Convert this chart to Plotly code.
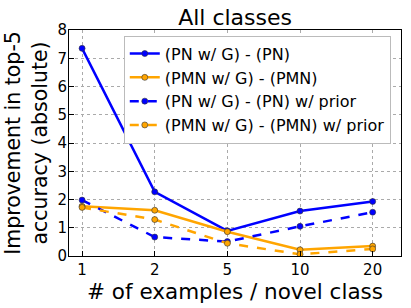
import plotly.graph_objects as go

categories = ["1", "2", "5", "10", "20"]
pn_g_minus_pn = [7.35, 2.27, 0.89, 1.59, 1.93]
pmn_g_minus_pmn = [1.76, 1.62, 0.86, 0.22, 0.35]
pn_g_minus_pn_prior = [1.98, 0.67, 0.51, 1.05, 1.55]
pmn_g_minus_pmn_prior = [1.72, 1.29, 0.45, 0.06, 0.25]
y_ticks = [0, 1, 2, 3, 4, 5, 6, 7, 8]

series = [
    ("(PN w/ G) - (PN)", pn_g_minus_pn, "#0000FF", "solid"),
    ("(PMN w/ G) - (PMN)", pmn_g_minus_pmn, "#FFA500", "solid"),
    ("(PN w/ G) - (PN) w/ prior", pn_g_minus_pn_prior, "#0000FF", "dash"),
    ("(PMN w/ G) - (PMN) w/ prior", pmn_g_minus_pmn_prior, "#FFA500", "dash"),
]

fig = go.Figure()
for name, vals, color, dash in series:
    fig.add_trace(go.Scatter(
        x=categories, y=vals, name=name, mode="lines+markers",
        line=dict(color=color, width=2.5, dash=dash),
        marker=dict(size=6, color=color, line=dict(color="#333333", width=0.6)),
    ))

font = "DejaVu Sans, sans-serif"
fig.update_layout(
    width=411, height=308,
    margin=dict(l=69, r=10, t=30, b=52),
    paper_bgcolor="white", plot_bgcolor="white",
    font=dict(family=font, color="black", size=15),
    title=dict(text="All classes", x=0.572, xanchor="center", y=0.97, yanchor="top",
               font=dict(size=22)),
    showlegend=True,
    legend=dict(x=0.165, y=0.975, xanchor="left", yanchor="top",
                bgcolor="white", bordercolor="#BBBBBB", borderwidth=1,
                font=dict(size=16), tracegroupgap=0, itemwidth=30),
    xaxis=dict(
        type="category", range=[-0.18, 4.39],
        title=dict(text="# of examples / novel class", font=dict(size=21.5), standoff=2),
        showgrid=True, gridcolor="#AAAAAA", griddash="dot", gridwidth=1,
        showline=True, linecolor="black", linewidth=1, mirror=True,
        ticks="inside", ticklen=5, tickcolor="black",
        tickfont=dict(size=15), zeroline=False,
    ),
    yaxis=dict(
        range=[0, 8], tickvals=y_ticks,
        title=dict(text="Improvement in top-5<br>accuracy (absolute)", font=dict(size=20.5), standoff=4),
        showgrid=True, gridcolor="#AAAAAA", griddash="dot", gridwidth=1,
        showline=True, linecolor="black", linewidth=1, mirror=True,
        ticks="inside", ticklen=5, tickcolor="black",
        tickfont=dict(size=15), zeroline=False, ticklabelstandoff=-2,
    ),
)

fig.write_html("out.html", config={"displayModeBar": False},
               post_script="document.body.style.margin='0';")
